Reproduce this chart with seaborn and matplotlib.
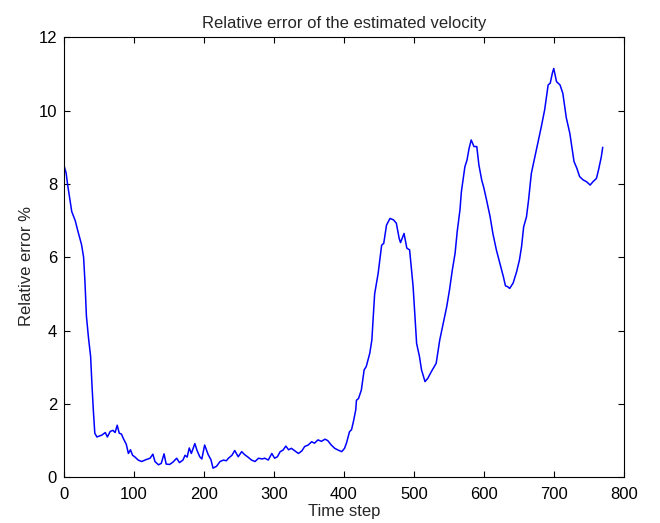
import numpy as np
import pandas as pd
import matplotlib
matplotlib.use("Agg")
import matplotlib.pyplot as plt
import seaborn as sns

# values (time step, relative error %)
time_step = [
    0, 3, 5, 11, 16, 20, 25, 28, 30, 32, 35, 38, 40, 42, 44, 47, 54, 59, 62, 66,
    70, 73, 76, 79, 82, 85, 89, 92, 95, 98, 101, 106, 111, 117, 123, 127, 130, 135, 139, 143,
    146, 151, 156, 161, 165, 170, 173, 176, 179, 182, 187, 190, 194, 197, 201, 206, 210, 213, 218, 223,
    228, 232, 235, 240, 244, 249, 254, 258, 263, 268, 273, 278, 283, 287, 292, 297, 301, 305, 309, 313,
    317, 321, 325, 330, 335, 340, 344, 349, 354, 358, 363, 368, 373, 377, 382, 387, 392, 397, 401, 404,
    408, 411, 414, 417, 418, 421, 425, 429, 432, 437, 440, 442, 444, 449, 454, 457, 461, 466, 471, 475,
    479, 481, 484, 486, 490, 494, 499, 504, 508, 511, 516, 520, 525, 532, 537, 542, 547, 551, 555, 559,
    562, 566, 568, 573, 576, 579, 582, 586, 590, 593, 597, 600, 604, 609, 613, 618, 623, 628, 631, 634,
    637, 642, 647, 651, 654, 657, 661, 664, 668, 673, 678, 682, 687, 692, 695, 698, 700, 704, 709, 713,
    718, 723, 726, 729, 733, 737, 742, 747, 752, 756, 761, 764, 768, 770,
]
rel_error = [
    8.5, 8.3, 8.0, 7.25, 7.0, 6.7, 6.35, 6.0, 5.3, 4.4, 3.8, 3.3, 2.5, 1.8, 1.2, 1.1, 1.15, 1.22, 1.1, 1.25,
    1.28, 1.22, 1.42, 1.2, 1.18, 1.05, 0.9, 0.65, 0.75, 0.6, 0.56, 0.47, 0.43, 0.48, 0.52, 0.63, 0.43, 0.34, 0.38, 0.64,
    0.36, 0.35, 0.42, 0.52, 0.4, 0.47, 0.6, 0.55, 0.8, 0.65, 0.92, 0.74, 0.56, 0.5, 0.88, 0.62, 0.48, 0.25, 0.3, 0.43,
    0.47, 0.45, 0.52, 0.6, 0.73, 0.56, 0.7, 0.62, 0.55, 0.47, 0.43, 0.52, 0.5, 0.52, 0.47, 0.65, 0.52, 0.56, 0.7, 0.74,
    0.85, 0.75, 0.79, 0.72, 0.65, 0.72, 0.84, 0.88, 0.97, 0.93, 1.02, 0.98, 1.04, 1.0, 0.88, 0.79, 0.74, 0.7, 0.79, 0.95,
    1.24, 1.3, 1.55, 1.84, 2.1, 2.15, 2.38, 2.93, 3.02, 3.38, 3.74, 4.38, 5.0, 5.56, 6.33, 6.38, 6.88, 7.06, 7.02, 6.93,
    6.52, 6.4, 6.55, 6.65, 6.25, 6.2, 5.2, 3.65, 3.3, 2.93, 2.61, 2.7, 2.88, 3.11, 3.74, 4.2, 4.65, 5.11, 5.65, 6.11,
    6.7, 7.3, 7.79, 8.47, 8.65, 8.97, 9.2, 9.02, 9.02, 8.52, 8.11, 7.9, 7.56, 7.11, 6.65, 6.2, 5.84, 5.47, 5.22, 5.2,
    5.15, 5.3, 5.61, 5.93, 6.29, 6.83, 7.1, 7.56, 8.29, 8.74, 9.2, 9.54, 10.02, 10.7, 10.75, 11.02, 11.15, 10.79, 10.7, 10.47,
    9.8, 9.38, 9.0, 8.61, 8.43, 8.2, 8.11, 8.06, 7.97, 8.06, 8.15, 8.38, 8.74, 9.0,
]

x_ticks = [0, 100, 200, 300, 400, 500, 600, 700, 800]
y_ticks = [0, 2, 4, 6, 8, 10, 12]

df = pd.DataFrame({"Time step": time_step, "Relative error %": rel_error})

sns.set_style("ticks")
plt.rcParams["font.family"] = ["Liberation Sans", "DejaVu Sans"]

fig = plt.figure(figsize=(6.6, 5.23), dpi=100)
ax = fig.add_axes([0.097, 0.0874, 0.848, 0.8413])

sns.lineplot(data=df, x="Time step", y="Relative error %", ax=ax,
             color="#0000ff", linewidth=1.1, sort=False, estimator=None)

ax.set_xlim(0, 800)
ax.set_ylim(0, 12)
ax.set_xticks(x_ticks)
ax.set_yticks(y_ticks)
ax.tick_params(direction="in", top=True, right=True, length=4, width=0.8,
               labelsize=12, colors="black")
ax.tick_params(axis="x", pad=7)
ax.tick_params(axis="y", pad=5)
for s in ax.spines.values():
    s.set_visible(True)
    s.set_linewidth(0.8)
    s.set_color("black")

ax.set_title("Relative error of the estimated velocity", fontsize=12, pad=7)
ax.set_xlabel("Time step", fontsize=12, labelpad=1.5)
ax.set_ylabel("Relative error %", fontsize=12, labelpad=3)
ax.yaxis.label.set_y(0.48)

fig.savefig("out.png", dpi=100)
